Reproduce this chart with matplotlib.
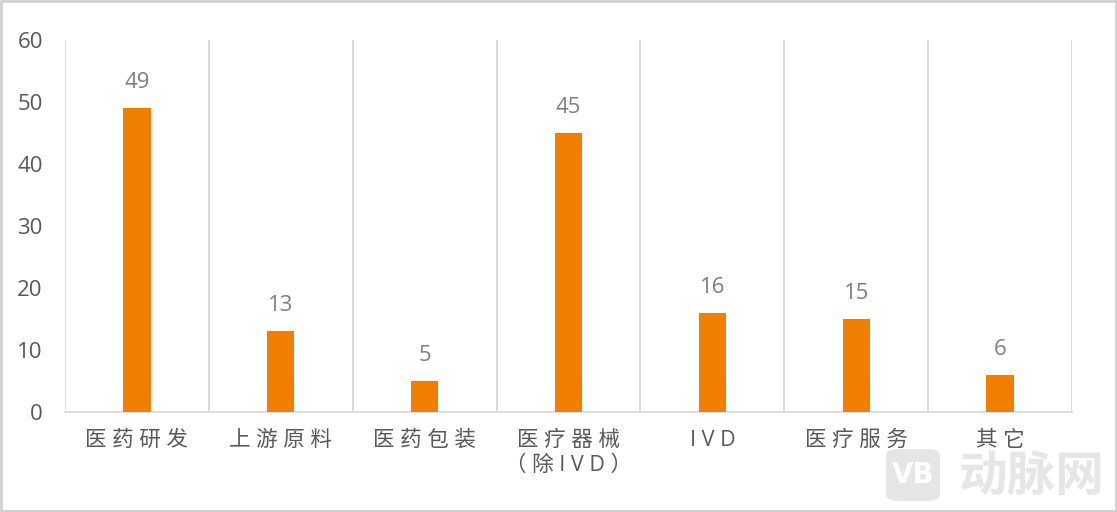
import matplotlib
matplotlib.use("Agg")
import matplotlib.pyplot as plt
from matplotlib.patches import FancyBboxPatch

plt.rcParams['font.family'] = ['Open Sans', 'Noto Sans CJK SC', 'DejaVu Sans']

categories = ["医药研发", "上游原料", "医药包装", "医疗器械\n（除IVD）", "IVD", "医疗服务", "其它"]
values = [49, 13, 5, 45, 16, 15, 6]
yticks = [0, 10, 20, 30, 40, 50, 60]

BAR_COLOR = "#F07F00"
GRID_COLOR = "#D9D9D9"
TEXT_COLOR = "#595959"
LABEL_COLOR = "#7F7F7F"


def spaced(label):
    return "\n".join(" ".join(line) for line in label.split("\n"))


fig = plt.figure(figsize=(11.17, 5.12), dpi=100)
ax = fig.add_axes([65 / 1117, 1 - 412 / 512, (1072 - 65) / 1117, (412 - 40) / 512])

x = list(range(len(categories)))
bars = ax.bar(x, values, width=0.19, color=BAR_COLOR, zorder=3)

ax.set_xlim(-0.5, len(categories) - 0.5)
ax.set_ylim(0, 60)
ax.set_yticks(yticks)
ax.set_yticklabels([str(t) for t in yticks], fontsize=16, color=TEXT_COLOR)

ax.set_xticks(x)
ax.set_xticklabels([spaced(c) for c in categories], fontsize=15.5, color=TEXT_COLOR,
                   linespacing=1.25, va="top")
ax.tick_params(axis="both", length=0)
ax.tick_params(axis="x", pad=13)
ax.tick_params(axis="y", pad=16)

# category separators
for b in range(len(categories) + 1):
    ax.axvline(b - 0.5, color=GRID_COLOR, lw=1.3, zorder=1)

for s in ["top", "right", "left"]:
    ax.spines[s].set_visible(False)
ax.spines["bottom"].set_color(GRID_COLOR)
ax.spines["bottom"].set_linewidth(1.3)

for xi, v in zip(x, values):
    ax.annotate(str(v), (xi, v), xytext=(0, 11), textcoords="offset points",
                ha="center", va="bottom", fontsize=16, color=LABEL_COLOR)

# outer border
fig.patches.append(plt.Rectangle((0.001, 0.002), 0.998, 0.996, transform=fig.transFigure,
                                 fill=False, edgecolor="#D0D0D0", lw=2))

# watermark
logo = FancyBboxPatch((886 / 1117, 1 - 501 / 512), 54 / 1117, 52 / 512,
                      boxstyle="round,pad=0,rounding_size=0.012",
                      transform=fig.transFigure, facecolor="#E6E6E6", edgecolor="none")
fig.patches.append(logo)
fig.text(913 / 1117, 1 - 475 / 512, "VB", ha="center", va="center", fontsize=20,
         color="white", fontweight="bold", family=["DejaVu Sans"])
fig.text(1032 / 1117, 1 - 477 / 512, "动脉网", ha="center", va="center", fontsize=35,
         color="#E6E6E6", fontweight="bold", family=["Noto Sans CJK SC"])

fig.savefig("out.png", dpi=100)
